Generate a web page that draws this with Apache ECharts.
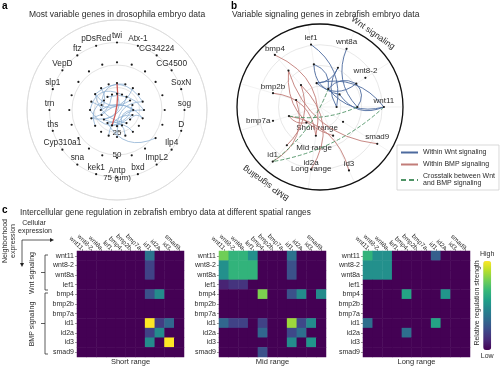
<!DOCTYPE html>
<html><head><meta charset="utf-8">
<script src="https://cdn.jsdelivr.net/npm/echarts@6/dist/echarts.min.js"></script>
<style>html,body{margin:0;padding:0;background:#fff}#c{width:500px;height:367px}</style>
</head><body><div id="c"></div>
<script>
// ================= DATA =================
// Panel a: drosophila genes, clockwise from top
const genesA = ['twi','Atx-1','CG34224','CG4500','SoxN','sog','D','Ilp4','ImpL2','bxd','Antp','kek1','sna','Cyp310a1','ths','trn','slp1','VepD','ftz','pDsRed'];
const dotRadiiA = [18, 30, 53, 75];          // µm, dots on every spoke (outermost is labelled)
const radialTicksA = [25, 50, 75];
const radialLabelsA = ['25', '50', '75 (\u03bcm)'];
// network edges: [geneA, radiusA, geneB, radiusB, group]
const edgesA = [
  ['VepD',30,'SoxN',30,'blue'], ['VepD',30,'CG4500',18,'blue'], ['ftz',18,'sog',30,'blue'],
  ['trn',30,'D',18,'blue'], ['slp1',18,'Atx-1',30,'blue'], ['ths',30,'CG34224',18,'blue'],
  ['trn',18,'sog',18,'blue'], ['Cyp310a1',18,'SoxN',18,'blue'], ['ths',18,'D',30,'blue'],
  ['sna',18,'Ilp4',53,'blue'], ['kek1',18,'ImpL2',30,'blue'], ['bxd',30,'sna',18,'blue'],
  ['Antp',30,'sog',30,'blue'], ['VepD',18,'Cyp310a1',30,'blue'], ['pDsRed',18,'ths',30,'blue'],
  ['Atx-1',18,'trn',30,'blue'], ['CG34224',30,'slp1',30,'blue'], ['D',18,'kek1',30,'blue'],
  ['ImpL2',18,'VepD',30,'blue'], ['sog',18,'bxd',18,'blue'], ['twi',18,'Cyp310a1',18,'blue'],
  ['SoxN',30,'Antp',18,'blue'], ['ftz',30,'trn',18,'blue'], ['D',30,'Ilp4',18,'blue'],
  ['twi',30,'kek1',18,'red']
];

// Panel b: zebrafish signaling genes, clockwise starting just left of top
const genesB = ['lef1','wnt8a','wnt8-2','wnt11','smad9','id3','id2a','id1','bmp7a','bmp2b','bmp4'];
const nodeRadiiB = [[29,52,76],[24,52,77],[28,52,65],[20,45,77],[33,82],[38,84],[35,76],[25,61,87],[39,59],[30,59],[35,58,83]];
const rangeTicksB = [25, 50, 75];
const rangeLabelsB = ['Short range', 'Mid range', 'Long range'];
const edgesB = [
  ['lef1',52,'wnt8a',24,'wnt'], ['lef1',52,'wnt8-2',28,'wnt'], ['wnt8a',52,'lef1',29,'wnt'],
  ['wnt8a',52,'wnt11',20,'wnt'], ['wnt8-2',52,'lef1',29,'wnt'], ['wnt8-2',52,'wnt8a',24,'wnt'],
  ['wnt11',77,'wnt8a',24,'wnt'], ['wnt11',77,'lef1',29,'wnt'], ['wnt11',77,'wnt8-2',28,'wnt'],
  ['wnt11',45,'wnt8-2',52,'wnt'], ['lef1',76,'wnt11',20,'wnt'], ['wnt8a',77,'wnt11',45,'wnt'],
  ['bmp4',83,'id2a',35,'bmp'], ['bmp4',58,'id3',38,'bmp'], ['bmp4',35,'id1',61,'bmp'],
  ['bmp7a',39,'id1',25,'bmp'], ['bmp2b',30,'id1',87,'bmp'], ['id2a',76,'bmp4',35,'bmp'],
  ['smad9',82,'bmp4',58,'bmp'], ['id3',84,'bmp7a',39,'bmp'], ['bmp2b',59,'id2a',35,'bmp'],
  ['wnt11',77,'id1',87,'cross'], ['id1',87,'wnt8a',24,'cross'], ['wnt11',45,'bmp7a',39,'cross']
];
const legendNamesB = ['Within Wnt signaling', 'Within BMP signaling', 'Crosstalk between Wnt\nand BMP signaling'];

// Panel c: heatmaps (rows = neighborhood expression, cols = cellular expression)
const heatGenes = ['wnt11','wnt8-2','wnt8a','lef1','bmp4','bmp2b','bmp7a','id1','id2a','id3','smad9'];
const shortRange = [
  [0,0,0,0,0,0,0,0.38,0,0,0],
  [0,0,0,0,0,0,0,0.2,0,0,0],
  [0,0,0,0,0,0,0,0.2,0,0,0],
  [0,0,0,0,0,0,0,0,0,0,0],
  [0,0,0,0,0,0,0,0.25,0.48,0,0],
  [0,0,0,0,0,0,0,0,0,0,0],
  [0,0,0,0,0,0,0,0,0,0,0],
  [0,0,0,0,0,0,0,1.0,0.18,0.33,0],
  [0,0,0,0,0,0,0,0.2,0.48,0,0],
  [0,0,0,0,0,0,0,0.48,0,1.0,0],
  [0,0,0,0,0,0,0,0,0,0,0]
];
const midRange = [
  [0.78,0.65,0.65,0.5,0,0,0,0.38,0,0,0],
  [0.5,0.65,0.65,0.65,0,0,0,0.25,0,0,0],
  [0.5,0.65,0.65,0.65,0,0,0,0.25,0,0,0],
  [0.1,0.15,0.15,0,0,0,0,0,0,0,0],
  [0,0,0,0,0.8,0,0,0.25,0.48,0,0.48],
  [0,0,0,0,0,0,0,0,0,0,0],
  [0,0,0,0,0,0,0,0,0,0,0],
  [0.33,0.2,0.2,0,0.2,0,0,0.85,0.22,0.48,0],
  [0,0,0,0,0.33,0,0,0.22,0.36,0,0],
  [0,0,0,0,0,0,0,0.48,0,0.52,0],
  [0,0,0,0,0.25,0,0,0,0,0,0]
];
const longRange = [
  [0.65,0.5,0.5,0,0,0,0,0.3,0,0,0],
  [0.5,0.5,0.5,0,0,0,0,0,0,0,0],
  [0.5,0.5,0.5,0,0,0,0,0,0,0,0],
  [0,0,0,0,0,0,0,0,0,0,0],
  [0,0,0,0,0.58,0,0,0,0.52,0,0],
  [0,0,0,0,0,0,0,0,0,0,0],
  [0,0,0,0,0,0,0,0,0,0,0],
  [0.36,0,0,0,0,0,0,0.58,0,0,0],
  [0,0,0,0,0.36,0,0,0,0,0,0],
  [0,0,0,0,0,0,0,0,0,0,0],
  [0,0,0,0,0,0,0,0,0,0,0]
];
const rangeNames = ['Short range', 'Mid range', 'Long range'];

// ================= BUILD =================
const FONT = 'Liberation Sans, Arial, Helvetica, sans-serif';
const TXT = '#2b2b2b';
const viridis = ['#440154','#482878','#3e4989','#31688e','#26828e','#1f9e89','#35b779','#6ece58','#b5de2b','#fde725'];

// Panel a geometry: radius axis drawn toward bottom (startAngle 270)
const angA = i => (i * 360 / genesA.length + 180) % 360;
const nodesA = [];
genesA.forEach((g, i) => {
  dotRadiiA.forEach(r => {
    const outer = r === Math.max(...dotRadiiA);
    nodesA.push({
      name: g + '@' + r, value: [r, angA(i)],
      label: outer ? {show: true, formatter: g, position: 'top', distance: 1.5, fontSize: 8.3, color: TXT, fontFamily: FONT} : {show: false}
    });
  });
});
const bendsA = [0.55, -0.45, 0.35, -0.6];
const linksA = edgesA.map((e, k) => ({
  source: e[0] + '@' + e[1], target: e[2] + '@' + e[3],
  lineStyle: {color: e[4] === 'red' ? '#d0524f' : '#8aaed2', width: e[4] === 'red' ? 1.3 : 0.8, curveness: e[4] === 'red' ? 0.12 : bendsA[k % 4], opacity: 0.95}
}));

// Panel b geometry: genes evenly spaced, wnt11 exactly at right; radius axis along id2a spoke
const nB = genesB.length, stepB = 360 / nB;
const phi0B = -90 / nB;                      // screen angle (clockwise from top) of first gene
const axisGeneB = genesB.indexOf('id2a');
const startAngleB = ((90 - (phi0B + axisGeneB * stepB)) % 360 + 360) % 360;
const angB = i => (((i - axisGeneB) % nB + nB) % nB) * stepB;
const nodesB = [];
genesB.forEach((g, i) => {
  const rs = nodeRadiiB[i];
  const phi = phi0B + i * stepB;
  const side = (phi > 225 && phi < 265) ? 'left' : 'top';
  rs.forEach(r => {
    const outer = r === Math.max(...rs);
    nodesB.push({
      name: g + '@' + r, value: [r, angB(i)],
      label: outer ? {show: true, formatter: g, position: side, distance: 1.5, fontSize: 8, color: TXT, fontFamily: FONT} : {show: false}
    });
  });
});
const colB = {wnt: '#4d6a9e', bmp: '#c27d79', cross: '#4f9466'};
const bendsB = [0.4, -0.4, 0.32, -0.32];
const linksB = edgesB.map((e, k) => ({
  source: e[0] + '@' + e[1], target: e[2] + '@' + e[3],
  lineStyle: {color: colB[e[4]], width: 1, curveness: e[4] === 'cross' ? 0.15 * (k % 2 ? 1 : -1) : bendsB[k % 4], type: e[4] === 'cross' ? [4, 2] : 'solid', opacity: 0.9}
}));

// heatmap data
const toCells = m => { const out = []; m.forEach((row, r) => row.forEach((v, c) => out.push([c, r, v]))); return out; };
const mats = [shortRange, midRange, longRange];
const gridLefts = [77, 219, 363];

const grids = [], xAxes = [], yAxes = [], heatSeries = [];
mats.forEach((m, k) => {
  grids.push({left: gridLefts[k], top: 251, width: 107, height: 106});
  xAxes.push({type: 'category', gridIndex: k, data: heatGenes, position: 'top',
    axisLine: {show: false}, axisTick: {show: true, alignWithLabel: true, length: 2, lineStyle: {color: '#555', width: 0.6}},
    axisLabel: {rotate: 45, fontSize: 6.3, margin: 2, interval: 0, color: TXT, fontFamily: FONT}, splitLine: {show: false}});
  yAxes.push({type: 'category', gridIndex: k, data: heatGenes, inverse: true,
    axisLine: {show: false}, axisTick: {show: true, alignWithLabel: true, length: 2, lineStyle: {color: '#555', width: 0.6}},
    axisLabel: {fontSize: 7, margin: 3, interval: 0, color: TXT, fontFamily: FONT}});
  heatSeries.push({type: 'heatmap', xAxisIndex: k, yAxisIndex: k, data: toCells(m), itemStyle: {borderWidth: 0}, emphasis: {disabled: true}});
});

const seriesAll = [
  {type: 'graph', coordinateSystem: 'polar', polarIndex: 0, layout: 'none', symbol: 'circle', symbolSize: 2.2,
   itemStyle: {color: '#1a1a1a'}, data: nodesA, links: linksA, edgeSymbol: ['none','none'], z: 3, emphasis: {disabled: true}},
  {type: 'graph', coordinateSystem: 'polar', polarIndex: 1, layout: 'none', symbol: 'circle', symbolSize: 2.2,
   itemStyle: {color: '#1a1a1a'}, data: nodesB, links: linksB, edgeSymbol: ['none','none'], z: 3, emphasis: {disabled: true}},
  {type: 'line', name: legendNamesB[0], coordinateSystem: 'polar', polarIndex: 1, data: [], symbol: 'none', lineStyle: {color: colB.wnt, width: 1.2}, itemStyle: {color: colB.wnt}},
  {type: 'line', name: legendNamesB[1], coordinateSystem: 'polar', polarIndex: 1, data: [], symbol: 'none', lineStyle: {color: colB.bmp, width: 1.2}, itemStyle: {color: colB.bmp}},
  {type: 'line', name: legendNamesB[2], coordinateSystem: 'polar', polarIndex: 1, data: [], symbol: 'none', lineStyle: {color: colB.cross, width: 1.5, type: [5, 3]}, itemStyle: {color: colB.cross}},
  ...heatSeries
];
const heatIdx = heatSeries.map((s, k) => 5 + k);

const txt = (text, x, y, o = {}) => ({type: 'text', x, y, rotation: o.rot || 0, z: 10,
  style: {text, fill: o.fill || TXT, fontSize: o.size || 7.5, fontFamily: FONT, fontWeight: o.weight || 'normal',
          textAlign: o.align || 'center', textVerticalAlign: 'middle'}});
const seg = (pts, o = {}) => ({type: 'polyline', z: 10, shape: {points: pts}, style: {stroke: o.stroke || '#333', lineWidth: o.w || 0.8, fill: null}});
const tri = (pts) => ({type: 'polygon', z: 10, shape: {points: pts}, style: {fill: '#222'}});

const graphics = [
  txt('a', 2, 6, {size: 10, weight: 'bold', align: 'left', fill: '#000'}),
  txt('b', 231, 6, {size: 10, weight: 'bold', align: 'left', fill: '#000'}),
  txt('c', 2, 210, {size: 10, weight: 'bold', align: 'left', fill: '#000'}),
  txt('Most variable genes in drosophila embryo data', 117, 15, {size: 8.5}),
  txt('Variable signaling genes in zebrafish embryo data', 232, 15, {size: 8.5, align: 'left'}),
  txt('Intercellular gene regulation in zebrafish embryo data at different spatial ranges', 20, 213, {size: 8.3, align: 'left'}),
  txt('Wnt signaling', 373, 33, {size: 8.5, rot: -35 * Math.PI / 180}),
  txt('BMP signaling', 266, 183, {size: 8.5, rot: 145 * Math.PI / 180}),
  txt('Cellular', 34, 223, {size: 7}),
  txt('expression', 35, 231, {size: 7}),
  txt('Neighborhood', 5, 241, {size: 7, rot: Math.PI / 2}),
  txt('expression', 13, 241, {size: 7, rot: Math.PI / 2}),
  txt('Wnt signaling', 32, 273, {size: 7, rot: Math.PI / 2}),
  txt('BMP signaling', 32, 324, {size: 7, rot: Math.PI / 2}),
  seg([[22, 240], [51, 240]]), tri([[50, 238], [54, 240], [50, 242]]),
  seg([[22, 240], [22, 264]]), tri([[20, 263], [22, 267], [24, 263]]),
  seg([[48, 255], [45, 255], [45, 290], [48, 290]]), seg([[45, 272.5], [41, 272.5]]),
  seg([[48, 293], [45, 293], [45, 354], [48, 354]]), seg([[45, 323.5], [41, 323.5]]),
  txt('Relative regulation strength', 477, 303, {size: 7, rot: Math.PI / 2})
];
rangeNames.forEach((n, k) => graphics.push(txt(n, gridLefts[k] + 53.5, 362, {size: 7.5})));

const option = {
  animation: false,
  backgroundColor: '#fff',
  polar: [{center: [117, 110], radius: 90}, {center: [320, 107], radius: 83}],
  angleAxis: [
    {polarIndex: 0, type: 'value', min: 0, max: 360, interval: 360 / genesA.length, startAngle: 270, clockwise: true,
     axisLine: {lineStyle: {color: '#dcdcdc', width: 0.8}}, axisTick: {show: false}, axisLabel: {show: false}, splitLine: {show: false}},
    {polarIndex: 1, type: 'value', min: 0, max: 360, interval: stepB, startAngle: startAngleB, clockwise: true,
     axisLine: {lineStyle: {color: '#111', width: 1.3}}, axisTick: {show: false}, axisLabel: {show: false},
     splitLine: {show: true, lineStyle: {color: '#ececec', width: 0.7}}}
  ],
  radiusAxis: [
    {polarIndex: 0, type: 'value', min: 0, max: 100, interval: 25, axisLine: {show: false}, axisTick: {show: false},
     splitLine: {show: true, lineStyle: {color: '#dcdcdc', width: 0.8}},
     axisLabel: {formatter: v => { const j = radialTicksA.indexOf(v); return j >= 0 ? radialLabelsA[j] : ''; },
                 margin: 0, align: 'center', verticalAlign: 'middle', fontSize: 8, color: TXT, fontFamily: FONT}},
    {polarIndex: 1, type: 'value', min: 0, max: 100, interval: 25, axisLine: {show: false}, axisTick: {show: false},
     splitLine: {show: true, lineStyle: {color: '#e2e2e2', width: 0.8}},
     axisLabel: {formatter: v => { const j = rangeTicksB.indexOf(v); return j >= 0 ? rangeLabelsB[j] : ''; },
                 margin: 0, align: 'center', verticalAlign: 'middle', fontSize: 8, color: TXT, fontFamily: FONT}}
  ],
  legend: {data: legendNamesB, orient: 'vertical', left: 397, top: 145, itemWidth: 17, itemHeight: 6, itemGap: 5,
           textStyle: {fontSize: 7, color: TXT, fontFamily: FONT}, borderColor: '#cfcfcf', borderWidth: 0.8,
           itemStyle: {opacity: 0},
           padding: [4, 4, 3, 3], backgroundColor: '#fff', selectedMode: false},
  grid: grids, xAxis: xAxes, yAxis: yAxes,
  visualMap: {type: 'continuous', min: 0, max: 1, seriesIndex: heatIdx, orient: 'vertical', left: 465, top: 236,
              itemWidth: 8, itemHeight: 89, text: ['High', 'Low'], textGap: 3, calculable: false, hoverLink: false,
              textStyle: {fontSize: 7, color: TXT, fontFamily: FONT}, inRange: {color: viridis}},
  series: seriesAll,
  graphic: {elements: graphics}
};
const chart = echarts.init(document.getElementById('c'), null, {renderer: 'canvas'});
chart.setOption(option);
</script></body></html>
